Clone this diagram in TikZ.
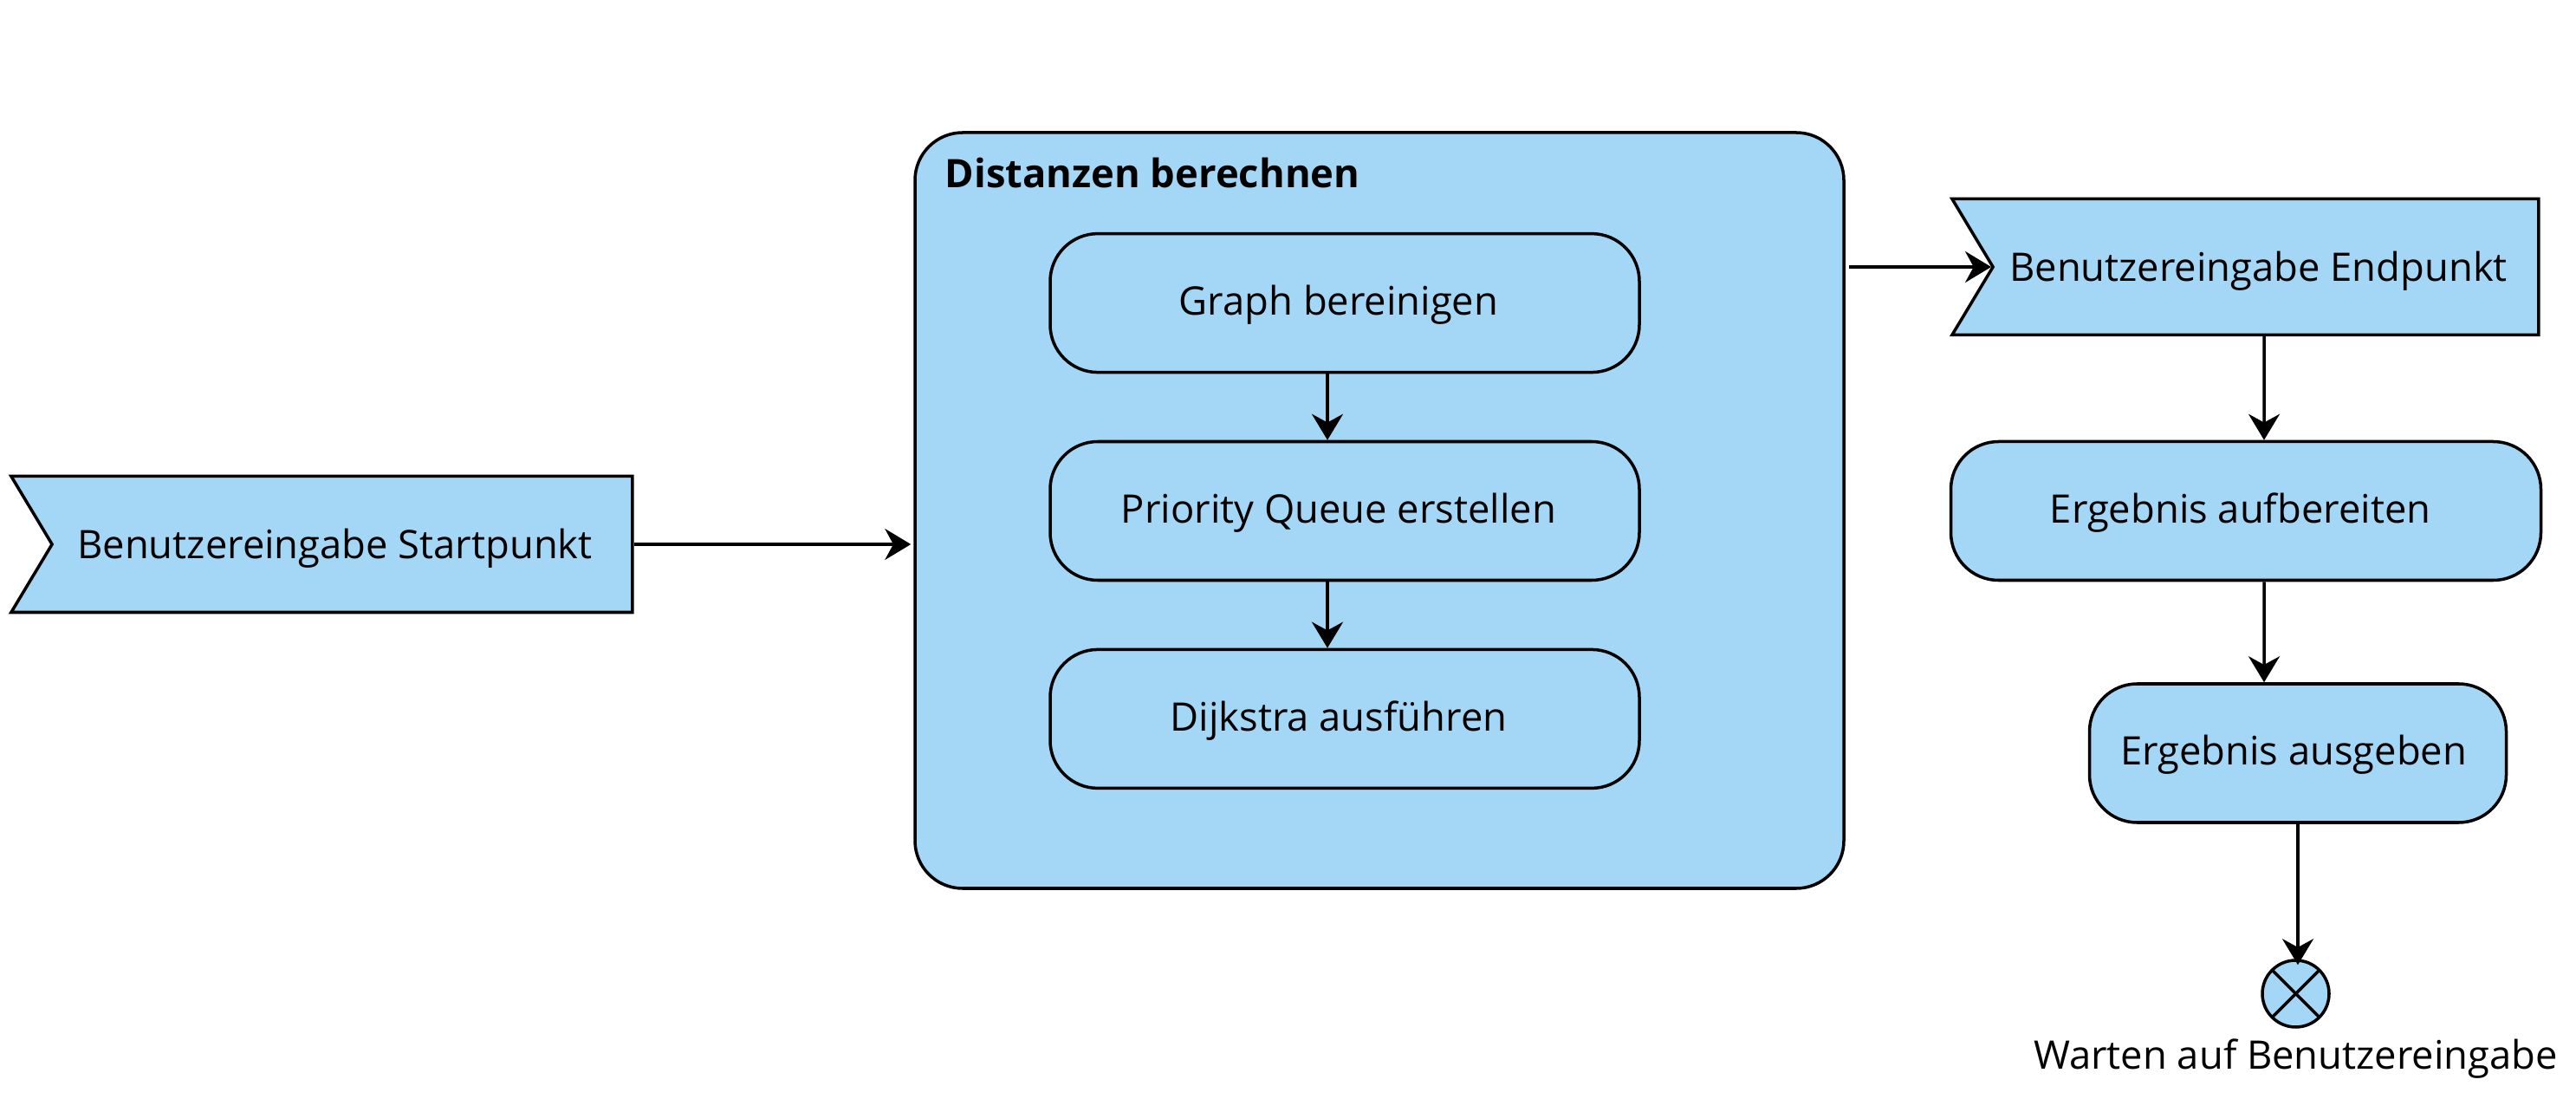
\documentclass[tikz,border=0pt]{standalone}
\usepackage{fontspec}
\setmainfont{Open Sans}
\usetikzlibrary{matrix,positioning,arrows.meta,shapes.symbols}
\definecolor{actblue}{HTML}{A4D6F6}
\tikzset{
  act/.style={draw, fill=actblue, rounded corners=5.5mm, line width=1pt, align=center, text height=4mm, text depth=1.2mm},
  event/.style={draw, fill=actblue, line width=1pt, signal, signal from=west, signal to=nowhere, signal pointer angle=118, inner sep=0pt, text height=4.5mm, text depth=1.2mm},
  flow/.style={-{Stealth[length=3mm, width=3.6mm]}, line width=1pt}
}
\begin{document}
\begin{tikzpicture}[font=\fontsize{12.9pt}{15pt}\selectfont]
  \useasboundingbox (0,0) rectangle (29.73,12.67);
  \node[event, minimum width=7.17cm, minimum height=1.57cm] (start) at (3.95,6.39) {Benutzereingabe Startpunkt\hspace*{1.7mm}};
  \node[act, minimum width=10.72cm, minimum height=8.72cm] (dist) at (15.92,6.78) {};
  \node[anchor=base west, inner sep=0pt, font=\fontsize{12.9pt}{15pt}\selectfont\bfseries] (title) at (10.90,10.50) {Distanzen berechnen};
  \matrix (M) [matrix of nodes,
      nodes={act, minimum width=6.8cm, minimum height=1.6cm, anchor=center},
      row sep=7.64mm, inner sep=0pt
    ] at (15.52,6.775)
    {
      Graph bereinigen\hspace*{1.4mm}\\
      Priority Queue erstellen\hspace*{1.4mm}\\
      Dijkstra ausführen\hspace*{1.4mm}\\
    };
  \node[event, minimum width=6.77cm, minimum height=1.57cm] (end) at (26.15,9.59) {Benutzereingabe Endpunkt\hspace*{1.7mm}};
  \node[act, minimum width=6.81cm, minimum height=1.6cm] (prep) at (25.92,6.775) {Ergebnis aufbereiten\hspace*{1.3mm}};
  \node[act, minimum width=4.81cm, minimum height=1.6cm] (out) at (26.52,3.98) {Ergebnis ausgeben\hspace*{1mm}};
  \node[circle, draw, fill=actblue, line width=1pt, minimum size=7.7mm, inner sep=0pt,
    path picture={
      \draw[line width=1pt] (path picture bounding box.north west) -- (path picture bounding box.south east);
      \draw[line width=1pt] (path picture bounding box.south west) -- (path picture bounding box.north east);
    }] (wait) at (26.495,1.205) {};
  \node[below=0mm of wait] (waittext) {Warten auf Benutzereingabe};
  \draw[flow, shorten >=0.3mm] (start.east) -- (start.east -| dist.west);
  \draw[flow] ([xshift=-2mm]M-1-1.south) -- ([xshift=-2mm]M-2-1.north);
  \draw[flow] ([xshift=-2mm]M-2-1.south) -- ([xshift=-2mm]M-3-1.north);
  \draw[flow] ([xshift=0.4mm]dist.east |- end.west) -- (end.west);
  \draw[flow] ([xshift=-0.2mm]end.south) -- ([xshift=2.1mm]prep.north);
  \draw[flow] ([xshift=2.1mm]prep.south) -- ([xshift=-3.9mm]out.north);
  \draw[flow, shorten >=-0.7mm] (out.south) -- (out.south |- wait.north);
\end{tikzpicture}
\end{document}
